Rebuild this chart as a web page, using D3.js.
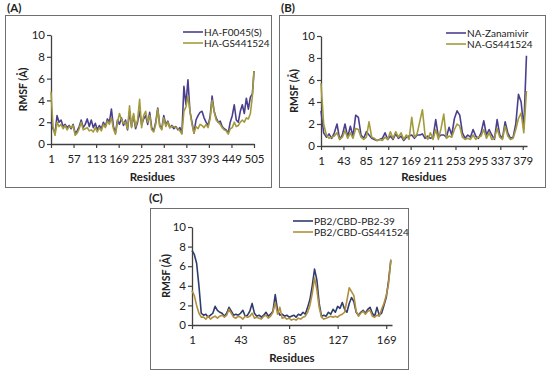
<!DOCTYPE html>
<html>
<head>
<meta charset="utf-8">
<script src="https://cdn.jsdelivr.net/npm/d3@7"></script>
<style>
  body { margin: 0; background: #fff; }
  svg text { font-family: Lato, "Open Sans", sans-serif; fill: #222; }
</style>
</head>
<body>
<svg width="550" height="375"></svg>
<script>
// ---- data ----
var yTicks = [0, 2, 4, 6, 8, 10];

// Panel A: HA, residues 1..505 sampled every 5
var resA = d3.range(1, 502, 5).concat([505]);
var haF0045 = [2.0,1.4,1.0,2.6,2.0,2.2,1.6,1.8,1.5,1.7,1.4,1.8,1.0,1.2,1.6,2.2,1.5,1.8,2.3,1.6,
  2.2,1.5,1.9,1.3,1.7,1.4,2.0,1.6,2.3,2.0,3.2,1.6,1.0,2.2,1.8,2.4,1.7,2.2,1.3,3.0,
  1.6,2.6,1.4,2.0,3.0,1.8,2.3,2.6,1.8,2.9,1.5,1.2,2.0,3.3,1.7,1.4,2.6,1.8,2.1,1.5,
  1.7,1.4,1.6,1.3,1.5,1.0,5.3,3.6,5.9,3.0,2.0,1.0,2.2,2.6,2.9,3.0,2.4,2.0,1.7,2.5,
  4.4,3.0,2.4,2.0,2.1,1.6,1.4,1.3,1.0,2.0,2.6,3.6,2.2,2.0,3.0,3.6,2.8,4.2,3.2,4.3,
  4.6,6.7];
var haGS = [4.8,1.6,0.8,2.0,1.6,1.8,1.4,1.7,1.3,1.6,1.5,1.7,0.8,1.0,1.4,2.0,1.3,1.4,1.5,1.2,
  1.3,1.1,1.5,1.1,1.5,1.2,1.8,1.5,2.1,1.8,2.4,1.4,0.9,2.0,2.8,2.2,1.9,2.0,1.4,3.5,
  1.5,2.8,1.6,2.2,4.1,1.5,2.6,3.0,2.0,2.6,1.3,1.1,1.8,3.2,1.6,1.3,2.4,1.6,2.0,1.5,
  1.6,1.6,1.5,1.4,1.2,0.9,3.0,3.4,4.4,3.0,1.8,1.0,1.6,1.4,1.8,1.7,1.5,1.8,1.5,2.3,
  4.0,3.0,2.2,2.0,1.8,1.5,1.3,1.2,0.9,1.4,1.5,2.0,1.6,1.7,2.0,2.2,2.0,2.4,2.3,2.8,
  4.4,6.7];
var ticksA = [1, 57, 113, 169, 225, 281, 337, 393, 449, 505];

// Panel B: NA, residues 1..386 sampled every 5
var resB = d3.range(1, 387, 5);
var naZanamivir = [3.2,1.2,0.8,1.1,0.7,1.2,2.0,0.6,1.0,2.0,0.8,1.8,0.9,2.8,2.6,1.0,0.7,1.3,1.0,0.7,
  0.6,0.5,0.6,0.7,1.2,0.6,0.9,0.6,1.1,0.7,0.9,0.5,0.8,0.9,1.0,0.7,1.0,1.0,1.1,0.7,
  0.9,0.7,0.8,2.4,0.8,1.0,1.0,0.8,1.7,1.0,2.5,3.2,2.8,1.2,0.7,1.0,0.8,1.5,0.9,0.7,
  1.2,2.3,1.0,1.5,1.0,0.6,2.4,1.0,0.7,2.2,1.2,0.7,0.8,2.0,4.7,4.0,1.6,8.2];
var naGS = [5.7,2.0,1.0,0.7,0.8,0.9,1.2,0.6,0.8,1.4,0.7,1.2,0.7,1.6,1.5,0.8,0.6,0.8,2.2,0.8,
  0.7,0.5,0.6,0.5,0.8,0.6,1.3,0.7,1.3,0.8,1.2,0.6,1.0,0.6,2.6,0.8,1.1,2.2,3.3,1.0,
  0.6,1.2,0.6,1.5,0.6,1.6,2.9,0.7,0.9,0.8,1.5,2.0,1.8,0.8,0.6,0.7,0.6,1.0,0.6,0.8,
  0.9,1.5,0.7,1.2,0.6,0.7,1.6,0.8,0.6,1.8,0.9,0.6,0.7,1.5,2.5,3.0,1.2,5.0];
var ticksB = [1, 43, 85, 127, 169, 211, 253, 295, 337, 379];

// Panel C: PB2/CBD, residues 1..173 sampled every 2
var resC = d3.range(1, 174, 2);
var pb2_39 = [7.6,7.2,6.3,4.0,1.2,1.0,1.1,0.8,1.0,1.2,1.9,1.5,1.3,1.2,0.9,1.2,1.8,1.4,1.0,1.1,
  1.0,1.2,1.5,0.9,1.0,1.4,2.2,1.2,0.9,1.0,0.8,1.0,1.3,0.9,1.1,1.4,3.1,1.5,1.0,1.1,
  0.9,1.0,0.8,0.9,1.0,0.8,1.1,1.0,1.3,1.1,1.8,2.6,4.0,5.7,4.6,2.2,0.9,1.0,0.9,1.3,
  1.1,1.6,1.3,1.9,1.7,2.3,1.6,1.3,2.2,2.8,2.4,1.3,1.0,1.3,1.5,1.2,1.6,1.8,1.2,0.9,
  1.8,1.0,1.2,2.0,2.8,4.5,6.6];
var pb2GS = [3.5,3.0,2.0,1.2,0.8,0.8,0.6,0.9,0.6,0.8,0.9,0.7,0.9,1.0,0.8,1.0,1.6,1.2,0.8,0.7,
  0.9,0.8,0.6,0.9,0.8,0.9,1.2,0.7,0.8,0.7,0.6,0.9,1.0,0.7,0.9,1.3,2.3,1.1,1.8,0.7,
  0.8,0.6,0.7,0.5,0.6,0.5,0.7,0.6,0.8,0.9,1.3,2.0,3.2,4.8,3.6,1.8,0.8,0.6,0.7,0.8,
  0.9,0.8,0.9,0.8,1.0,1.1,1.3,2.5,3.8,3.4,3.0,1.4,0.9,1.2,1.4,1.1,1.4,1.5,0.9,0.8,
  1.0,0.9,1.6,2.2,3.0,4.2,6.7];
var ticksC = [1, 43, 85, 127, 169];

var svg = d3.select("svg");
var axisColor = "#404040";
var boxColor = "#6f6f6f";

function drawPanel(cfg) {
    // frame and panel letter
    svg.append("rect")
        .attr("x", cfg.box[0] + 0.5).attr("y", cfg.box[1] + 0.5)
        .attr("width", cfg.box[2]).attr("height", cfg.box[3])
        .attr("fill", "none").attr("stroke", boxColor).attr("stroke-width", 1);
    svg.append("text")
        .attr("x", cfg.label[0]).attr("y", cfg.label[1])
        .style("font-size", "11.5px").style("font-weight", "bold")
        .text(cfg.letter);

    var x = d3.scaleLinear().domain(cfg.xDomain).range([cfg.x0, cfg.x1]);
    var y = d3.scaleLinear().domain([0, 10]).range([cfg.y0, cfg.y10]);

    var g = svg.append("g");

    var xAxis = d3.axisBottom(x).tickValues(cfg.ticks).tickSize(4).tickSizeOuter(0);
    var yAxis = d3.axisLeft(y).tickValues(yTicks).tickSize(4).tickSizeOuter(0);

    var gx = g.append("g").attr("transform", "translate(0," + cfg.y0 + ")").call(xAxis);
    var gy = g.append("g").attr("transform", "translate(" + cfg.x0 + ",0)").call(yAxis);
    [gx, gy].forEach(function(a) {
        a.select(".domain").attr("stroke", axisColor).attr("stroke-width", 1.3);
        a.selectAll(".tick line").attr("stroke", axisColor).attr("stroke-width", 1.2);
        a.selectAll(".tick text").style("font-size", "11.5px")
            .style("font-family", "Lato, sans-serif").attr("fill", "#222");
    });
    gx.selectAll(".tick text").attr("dy", "1.0em");
    gy.selectAll(".tick text").attr("x", -6);

    var line = d3.line()
        .x(function(d) { return x(d[0]); })
        .y(function(d) { return y(d[1]); });

    cfg.series.forEach(function(s) {
        var pts = cfg.res.map(function(r, i) { return [r, s.values[i]]; });
        g.append("path")
            .datum(pts)
            .attr("fill", "none")
            .attr("stroke", s.color)
            .attr("stroke-width", 1.6)
            .attr("stroke-linejoin", "round")
            .attr("d", line);
    });

    // legend
    cfg.series.forEach(function(s, i) {
        var ly = cfg.legend[1] + i * 11;
        g.append("line")
            .attr("x1", cfg.legend[0]).attr("x2", cfg.legend[0] + 20)
            .attr("y1", ly).attr("y2", ly)
            .attr("stroke", s.color).attr("stroke-width", 1.6);
        g.append("text")
            .attr("x", cfg.legend[0] + 21).attr("y", ly).attr("dy", "0.35em")
            .style("font-size", "10px")
            .text(s.name);
    });

    // axis titles
    g.append("text")
        .attr("x", (cfg.x0 + cfg.titleX) / 2).attr("y", cfg.titleY)
        .attr("text-anchor", "middle")
        .style("font-size", "11.5px").style("font-weight", "bold")
        .text("Residues");
    g.append("text")
        .attr("transform", "translate(" + cfg.yTitleX + "," + ((cfg.y0 + cfg.y10) / 2) + ") rotate(-90)")
        .attr("text-anchor", "middle")
        .style("font-size", "10.5px").style("font-weight", "bold")
        .text("RMSF (Å)");
}

drawPanel({
    letter: "(A)", label: [7, 12], box: [5, 15, 266, 172],
    xDomain: [1, 505], x0: 51, x1: 254, y0: 144, y10: 35,
    ticks: ticksA, res: resA,
    series: [
        { name: "HA-F0045(S)", values: haF0045, color: "#4a3f8f" },
        { name: "HA-GS441524", values: haGS, color: "#a39a3c" }
    ],
    legend: [183, 32], titleX: 254, titleY: 181, yTitleX: 27
});

drawPanel({
    letter: "(B)", label: [281, 12], box: [279, 15, 266, 172],
    xDomain: [1, 387], x0: 321, x1: 527, y0: 146, y10: 36,
    ticks: ticksB, res: resB,
    series: [
        { name: "NA-Zanamivir", values: naZanamivir, color: "#4a3f8f" },
        { name: "NA-GS441524", values: naGS, color: "#a39a3c" }
    ],
    legend: [446, 33], titleX: 527, titleY: 181, yTitleX: 298
});

drawPanel({
    letter: "(C)", label: [149, 202], box: [150, 208, 258, 161],
    xDomain: [1, 174], x0: 192, x1: 392, y0: 325, y10: 227,
    ticks: ticksC, res: resC,
    series: [
        { name: "PB2/CBD-PB2-39", values: pb2_39, color: "#2f3d6e" },
        { name: "PB2/CBD-GS441524", values: pb2GS, color: "#b18f3f" }
    ],
    legend: [293, 221], titleX: 392, titleY: 362, yTitleX: 170
});
</script>
</body>
</html>
